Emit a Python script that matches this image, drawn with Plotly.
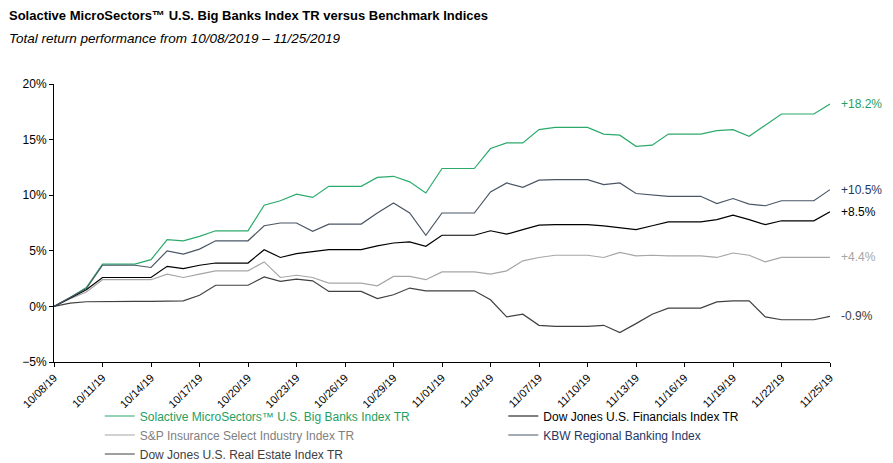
import pandas as pd
import plotly.graph_objects as go

dates = pd.date_range("2019-10-08", "2019-11-25", freq="D")

big_banks = [0, 0.8, 1.7, 3.8, 3.8, 3.8, 4.2, 6.0, 5.9, 6.3, 6.8, 6.8, 6.8, 9.1, 9.5, 10.1,
             9.8, 10.8, 10.8, 10.8, 11.6, 11.7, 11.2, 10.2, 12.4, 12.4, 12.4, 14.2, 14.7, 14.7,
             15.9, 16.1, 16.1, 16.1, 15.5, 15.4, 14.4, 14.5, 15.5, 15.5, 15.5, 15.8, 15.9, 15.3,
             16.3, 17.3, 17.3, 17.3, 18.2]
financials = [0, 0.75, 1.5, 2.6, 2.6, 2.6, 2.6, 3.6, 3.4, 3.7, 3.9, 3.9, 3.9, 5.1, 4.4, 4.75,
              4.9, 5.1, 5.1, 5.1, 5.45, 5.7, 5.8, 5.4, 6.4, 6.4, 6.4, 6.8, 6.5, 6.9,
              7.3, 7.35, 7.35, 7.35, 7.25, 7.1, 6.9, 7.25, 7.6, 7.6, 7.6, 7.8, 8.2, 7.8,
              7.35, 7.7, 7.7, 7.7, 8.5]
insurance = [0, 0.7, 1.3, 2.4, 2.4, 2.4, 2.4, 2.9, 2.6, 2.9, 3.2, 3.2, 3.2, 4.0, 2.6, 2.8,
             2.6, 2.1, 2.1, 2.1, 1.85, 2.7, 2.7, 2.4, 3.1, 3.1, 3.1, 2.9, 3.2, 4.1,
             4.4, 4.6, 4.6, 4.6, 4.4, 4.85, 4.55, 4.6, 4.55, 4.55, 4.55, 4.4, 4.8, 4.6,
             4.0, 4.4, 4.4, 4.4, 4.4]
regional = [0, 0.8, 1.6, 3.7, 3.7, 3.7, 3.5, 5.0, 4.7, 5.15, 5.9, 5.9, 5.9, 7.25, 7.5, 7.5,
            6.75, 7.4, 7.4, 7.4, 8.4, 9.3, 8.4, 6.4, 8.4, 8.4, 8.4, 10.3, 11.1, 10.7,
            11.35, 11.4, 11.4, 11.4, 10.95, 11.1, 10.15, 10.05, 9.9, 9.9, 9.9, 9.25, 9.7, 9.2,
            9.05, 9.5, 9.5, 9.5, 10.5]
real_estate = [0, 0.3, 0.42, 0.45, 0.45, 0.45, 0.45, 0.5, 0.5, 1.0, 1.9, 1.9, 1.9, 2.65, 2.25, 2.45,
               2.3, 1.35, 1.35, 1.35, 0.7, 1.05, 1.65, 1.4, 1.4, 1.4, 1.4, 0.6, -0.95, -0.7,
               -1.7, -1.8, -1.8, -1.8, -1.7, -2.35, -1.55, -0.7, -0.15, -0.15, -0.15, 0.4, 0.5, 0.5,
               -0.95, -1.2, -1.2, -1.2, -0.9]

# name, values, line colour, legend text colour, end label, label colour, legend column
series = [
    ("Solactive MicroSectors™ U.S. Big Banks Index TR", big_banks, "#2BAA6B", "#1FA060", "+18.2%", "#1FA060", "legend"),
    ("S&P Insurance Select Industry Index TR", insurance, "#A6A6A6", "#7F7F7F", "+4.4%", "#A6A6A6", "legend"),
    ("Dow Jones U.S. Real Estate Index TR", real_estate, "#404040", "#404040", "-0.9%", "#404040", "legend"),
    ("Dow Jones U.S. Financials Index TR", financials, "#000000", "#000000", "+8.5%", "#000000", "legend2"),
    ("KBW Regional Banking Index", regional, "#4A5665", "#1F3864", "+10.5%", "#1F3864", "legend2"),
]

fig = go.Figure()
for name, vals, color, txtcolor, lab, labcolor, leg in series:
    fig.add_trace(go.Scatter(
        x=dates, y=vals, name=f"<span style='color:{txtcolor}'>{name}</span>",
        mode="lines", line=dict(color=color, width=1.2), legend=leg,
    ))
    fig.add_annotation(x=dates[-1], y=vals[-1], text=lab, showarrow=False,
                       xanchor="left", xshift=9, font=dict(color=labcolor, size=12))

fig.add_annotation(xref="paper", yref="paper", x=-0.06, y=1.248, xanchor="left", yanchor="middle",
                   showarrow=False, font=dict(size=13, color="black"),
                   text="<b>Solactive MicroSectors™ U.S. Big Banks Index TR versus Benchmark Indices</b>")
fig.add_annotation(xref="paper", yref="paper", x=-0.06, y=1.165, xanchor="left", yanchor="middle",
                   showarrow=False, font=dict(size=13.5, color="black"),
                   text="<i>Total return performance from 10/08/2019 – 11/25/2019</i>")

tick_dates = dates[::3]
fig.update_xaxes(
    range=[dates[0], dates[-1]], tickvals=tick_dates,
    ticktext=[d.strftime("%m/%d/%y") for d in tick_dates],
    tickangle=-45, showline=True, linecolor="black", linewidth=1,
    ticks="outside", ticklen=4, tickcolor="black", showgrid=False,
    tickfont=dict(size=11, color="black"),
)
fig.update_yaxes(
    range=[-5, 20], dtick=5, ticksuffix="%", showline=True, linecolor="black",
    linewidth=1, ticks="outside", ticklen=4, tickcolor="black", showgrid=False,
    zeroline=False, tickfont=dict(size=12, color="black"),
)
legend_style = dict(orientation="v", yanchor="top", xanchor="left", y=-0.142,
                    itemwidth=30, tracegroupgap=0, font=dict(size=12),
                    bgcolor="rgba(0,0,0,0)")
fig.update_layout(
    width=885, height=455,
    margin=dict(l=46, r=63, t=76, b=101, autoexpand=False),
    paper_bgcolor="white", plot_bgcolor="white",
    font=dict(family="Liberation Sans, Arial, sans-serif", color="black"),
    showlegend=True,
    legend=dict(x=0.059, **legend_style),
    legend2=dict(x=0.579, **legend_style),
)

fig.write_html("out.html")
